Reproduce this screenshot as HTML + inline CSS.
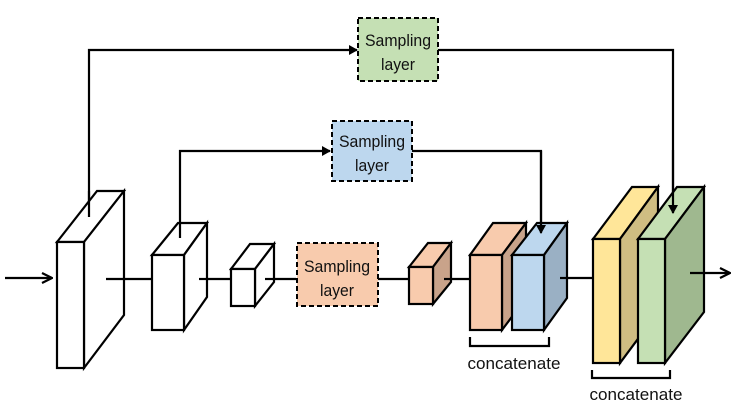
<!DOCTYPE html>
<html><head><style>body{margin:0;background:#fff}svg{display:block}text{font-family:"Liberation Sans",sans-serif;font-size:17px;fill:#111}</style></head>
<body>
<svg width="747" height="415" viewBox="0 0 747 415" xmlns="http://www.w3.org/2000/svg">
<defs><marker id="a" markerWidth="9" markerHeight="10" refX="8" refY="5" orient="auto" markerUnits="userSpaceOnUse"><path d="M0,0 L9,5 L0,10 z" fill="#000"/></marker>
<marker id="b" markerWidth="12" markerHeight="12" refX="11" refY="6" orient="auto" markerUnits="userSpaceOnUse"><path d="M1,1 L11,6 L1,11" fill="none" stroke="#000" stroke-width="2.2"/></marker></defs>
<g stroke="#000" stroke-width="2.2" fill="none">
<polyline points="89,217 89,50 357,50" marker-end="url(#a)"/>
<polyline points="438,50 673,50 673,213" marker-end="url(#a)"/>
<polyline points="180,238 180,151 330,151" marker-end="url(#a)"/>
<polyline points="412,151 541,151 541,233" marker-end="url(#a)"/>
<line x1="5" y1="278" x2="52" y2="278" marker-end="url(#b)"/>
<line x1="106" y1="279" x2="152" y2="279"/>
<line x1="199" y1="279" x2="231" y2="279"/>
<line x1="265" y1="279" x2="296" y2="279"/>
<line x1="378" y1="279" x2="410" y2="279"/>
<line x1="444" y1="279" x2="470" y2="279"/>
<line x1="560" y1="278" x2="593" y2="278"/>
</g>
<g stroke="#000" stroke-width="2.2" stroke-linejoin="miter">
<polygon points="57,242 97,191 124,191 84,242" fill="#fff"/>
<polygon points="84,242 124,191 124,315 84,368" fill="#fff"/>
<rect x="57" y="242" width="27" height="126" fill="#fff"/>
<polygon points="152,255 178,223 207,223 184,255" fill="#fff"/>
<polygon points="184,255 207,223 207,297 184,330" fill="#fff"/>
<rect x="152" y="255" width="32" height="75" fill="#fff"/>
<polygon points="231,269 250,244 274,244 255,269" fill="#fff"/>
<polygon points="255,269 274,244 274,282 255,306" fill="#fff"/>
<rect x="231" y="269" width="24" height="37" fill="#fff"/>
<polygon points="409,267 428,243 451,243 433,267" fill="#f8cbad"/>
<polygon points="433,267 451,243 451,282 433,304" fill="#c9a38a"/>
<rect x="409" y="267" width="24" height="37" fill="#f8cbad"/>
<polygon points="470,255 493,223 526,223 502,255" fill="#f8cbad"/>
<polygon points="502,255 526,223 526,298 502,330" fill="#c9a38a"/>
<rect x="470" y="255" width="32" height="75" fill="#f8cbad"/>
<polygon points="512,255 537,223 567,223 544,255" fill="#bdd7ee"/>
<polygon points="544,255 567,223 567,298 544,330" fill="#9ab0c4"/>
<rect x="512" y="255" width="32" height="75" fill="#bdd7ee"/>
<polygon points="593,239 632,187 658,187 620,239" fill="#ffe699"/>
<polygon points="620,239 658,187 658,312 620,363" fill="#cfbd82"/>
<rect x="593" y="239" width="27" height="124" fill="#ffe699"/>
<polygon points="638,239 677,187 704,187 665,239" fill="#c5e0b4"/>
<polygon points="665,239 704,187 704,312 665,363" fill="#9fb88f"/>
<rect x="638" y="239" width="27" height="124" fill="#c5e0b4"/>
</g>
<g stroke="#000" stroke-width="2.2" fill="none">
<line x1="89" y1="191" x2="89" y2="217"/>
<line x1="180" y1="223" x2="180" y2="238"/>
<polyline points="541,151 541,233" marker-end="url(#a)"/>
<polyline points="673,150 673,213" marker-end="url(#a)"/>
<line x1="106" y1="279" x2="124" y2="279"/>
<line x1="199" y1="279" x2="207" y2="279"/>
<line x1="265" y1="279" x2="274" y2="279"/>
<line x1="444" y1="279" x2="451" y2="279"/>
<line x1="560" y1="278" x2="567" y2="278"/>
<line x1="690" y1="273" x2="730" y2="273" marker-end="url(#b)"/>
<polyline points="470,337 470,346 549,346 549,337"/>
<polyline points="592,370 592,378 670,378 670,370"/>
</g>
<g stroke="#000" stroke-width="2" stroke-dasharray="5,3">
<rect x="358" y="18" width="80" height="63" fill="#c5e0b4"/>
<rect x="332" y="121" width="80" height="60" fill="#bdd7ee"/>
<rect x="297" y="243" width="81" height="63" fill="#f8cbad"/>
</g>
<g text-anchor="middle">
<text x="398" y="46" textLength="66" lengthAdjust="spacingAndGlyphs">Sampling</text>
<text x="398" y="70" textLength="34" lengthAdjust="spacingAndGlyphs">layer</text>
<text x="372" y="147" textLength="66" lengthAdjust="spacingAndGlyphs">Sampling</text>
<text x="372" y="171" textLength="34" lengthAdjust="spacingAndGlyphs">layer</text>
<text x="337" y="272" textLength="66" lengthAdjust="spacingAndGlyphs">Sampling</text>
<text x="337" y="296" textLength="34" lengthAdjust="spacingAndGlyphs">layer</text>
<text x="514" y="369" textLength="93" lengthAdjust="spacingAndGlyphs">concatenate</text>
<text x="636" y="400" textLength="93" lengthAdjust="spacingAndGlyphs">concatenate</text>
</g>
</svg>
</body></html>
